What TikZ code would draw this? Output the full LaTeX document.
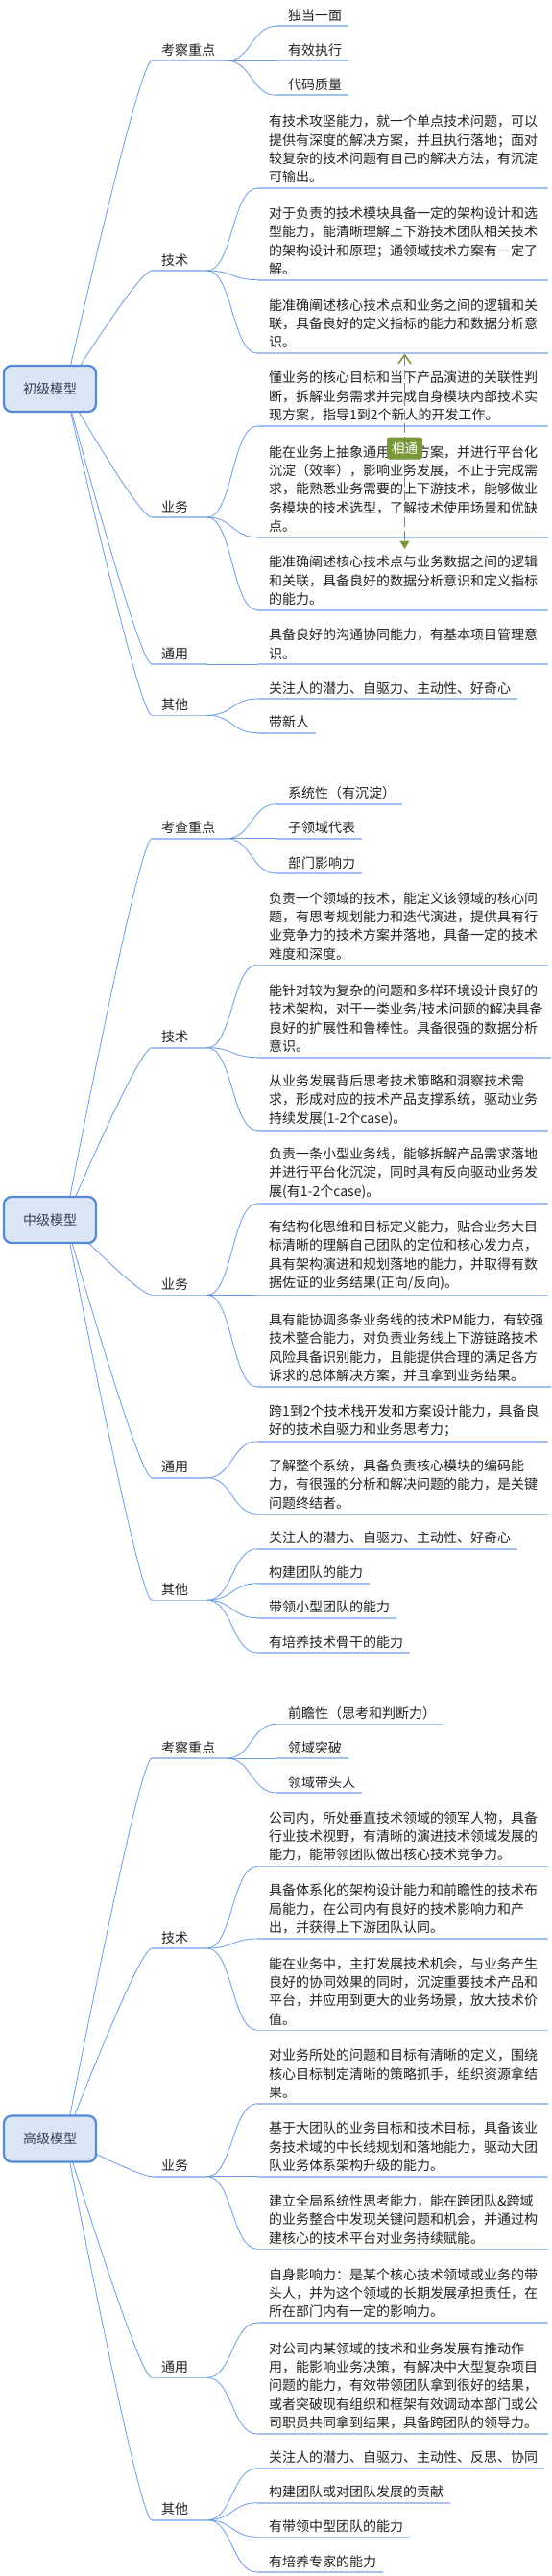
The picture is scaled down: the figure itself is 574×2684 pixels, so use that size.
\documentclass[tikz,border=0pt]{standalone}
\usepackage{fontspec}
\setmainfont{Noto Sans CJK SC}
\usetikzlibrary{calc,arrows.meta,backgrounds}
\definecolor{curveblue}{RGB}{106,154,230}
\definecolor{ulblue}{RGB}{163,194,240}
\definecolor{rootfill}{RGB}{219,229,243}
\definecolor{rootline}{RGB}{84,137,214}
\definecolor{roottext}{RGB}{50,66,92}
\definecolor{txt}{RGB}{34,34,34}
\definecolor{relgreen}{RGB}{122,151,58}
\newcommand\mmfont{\fontsize{14}{19.4}\selectfont}
\tikzset{
  curve/.style={draw=curveblue, line width=0.8pt},
  uline/.style={draw=ulblue, line width=1.6pt},
  rootbox/.style={draw=rootline, fill=rootfill, line width=2.2pt, rounded corners=8pt, minimum width=96pt, minimum height=48pt, inner sep=0pt, font=\fontsize{14}{16}\selectfont, text=roottext},
  lonetext/.style={anchor=base west, inner sep=0pt, font=\mmfont, text=txt},
  leaftext/.style={anchor=base west, inner sep=0pt, font=\mmfont, text=txt},
  desc/.style={anchor=south west, inner sep=0pt, align=left, font=\mmfont, text=txt},
  rellabel/.style={fill=relgreen, text=white, rounded corners=2.5pt, minimum width=37pt, minimum height=23pt, inner sep=0pt, font=\fontsize{13.5}{15}\selectfont},
  relline/.style={draw=relgreen, line width=1.6pt, dash pattern=on 10pt off 4pt},
}
% level-one topic: name, underline y, fork x, text
\newcommand\Lone[4]{%
  \coordinate (#1-l) at (158,#2);
  \coordinate (#1-f) at (#3,#2);
  \node[lonetext] (#1) at (168,#2-6) {#4};
  \draw[uline] (#1-l) -- (#1-f);}
% short leaf: parent, name, left x, underline y, text
\newcommand\Sleaf[5]{%
  \coordinate (#2-l) at (#3,#4);
  \node[leaftext] (#2) at (#3+12,#4-6) {#5};
  \draw[uline] (#2-l) -- (#2.east |- #2-l) -- ++(7,0);
  \draw[curve] (#1-f) .. controls +(26,0) and +(-26,0) .. (#2-l);}
% long leaf: parent, name, left x, underline y, right x, text
\newcommand\Lleaf[6]{%
  \coordinate (#2-l) at (#3,#4);
  \node[desc] (#2) at (#3+12,#4-4.7) {#6};
  \draw[uline] (#2-l) -- (#5,#4);
  \draw[curve] (#1-f) .. controls +(26,0) and +(-26,0) .. (#2-l);}
% root link: start coordinate, child name
\newcommand\Rlink[2]{%
  \draw[curve] (#1) .. controls ($(#1)!0.6667!(#2-l)+(-8,0)$) and ($(#2-l)+(-8,0)$) .. (#2-l);}

\begin{document}
\begin{tikzpicture}[x=1pt,y=-1pt]
\useasboundingbox (0,0) rectangle (574,2684);

\node[rootbox] (r1) at (52,405) {初级模型};
\node[rootbox] (r2) at (52,1271) {中级模型};
\node[rootbox] (r3) at (52,2228.5) {高级模型};
\coordinate (r1s) at ($(r1.center)+(16,0)$);
\coordinate (r2s) at ($(r2.center)+(16,0)$);
\coordinate (r3s) at ($(r3.center)+(16,0)$);

% ================= 初级模型
\Lone{a1}{63.3}{236}{考察重点}
\Sleaf{a1}{a1x1}{288}{27.3}{独当一面}
\Sleaf{a1}{a1x2}{288}{63.3}{有效执行}
\Sleaf{a1}{a1x3}{288}{99.3}{代码质量}

\Lone{a2}{282}{216}{技术}
\Lleaf{a2}{a2x1}{268}{196}{571}{有技术攻坚能力，就一个单点技术问题，可以\\提供有深度的解决方案，并且执行落地；面对\\较复杂的技术问题有自己的解决方法，有沉淀\\可输出。}
\Lleaf{a2}{a2x2}{268}{291.7}{571}{对于负责的技术模块具备一定的架构设计和选\\型能力，能清晰理解上下游技术团队相关技术\\的架构设计和原理；通领域技术方案有一定了\\解。}
\Lleaf{a2}{a2x3}{268}{368}{571}{能准确阐述核心技术点和业务之间的逻辑和关\\联，具备良好的定义指标的能力和数据分析意\\识。}

\Lone{a3}{539}{216}{业务}
\Lleaf{a3}{a3x1}{268}{444}{571}{懂业务的核心目标和当下产品演进的关联性判\\断，拆解业务需求并完成自身模块内部技术实\\现方案，指导1到2个新人的开发工作。}
\Lleaf{a3}{a3x2}{268}{559.7}{571}{能在业务上抽象通用技术方案，并进行平台化\\沉淀（效率），影响业务发展，不止于完成需\\求，能熟悉业务需要的上下游技术，能够做业\\务模块的技术选型，了解技术使用场景和优缺\\点。}
\Lleaf{a3}{a3x3}{268}{635.7}{571}{能准确阐述核心技术点与业务数据之间的逻辑\\和关联，具备良好的数据分析意识和定义指标\\的能力。}

\Lone{a4}{692}{216}{通用}
\Lleaf{a4}{a4x1}{268}{692}{571}{具备良好的沟通协同能力，有基本项目管理意\\识。}

\Lone{a5}{745.3}{216}{其他}
\Sleaf{a5}{a5x1}{268}{728}{关注人的潜力、自驱力、主动性、好奇心}
\Sleaf{a5}{a5x2}{268}{763.7}{带新人}

% ================= 中级模型
\Lone{b1}{873.7}{236}{考查重点}
\Sleaf{b1}{b1x1}{288}{837.7}{系统性（有沉淀）}
\Sleaf{b1}{b1x2}{288}{873.7}{子领域代表}
\Sleaf{b1}{b1x3}{288}{910}{部门影响力}

\Lone{b2}{1091.7}{216}{技术}
\Lleaf{b2}{b2x1}{268}{1005.3}{571}{负责一个领域的技术，能定义该领域的核心问\\题，有思考规划能力和迭代演进，提供具有行\\业竞争力的技术方案并落地，具备一定的技术\\难度和深度。}
\Lleaf{b2}{b2x2}{268}{1101.7}{574}{能针对较为复杂的问题和多样环境设计良好的\\技术架构，对于一类业务/技术问题的解决具备\\良好的扩展性和鲁棒性。具备很强的数据分析\\意识。}
\Lleaf{b2}{b2x3}{268}{1177.7}{571}{从业务发展背后思考技术策略和洞察技术需\\求，形成对应的技术产品支撑系统，驱动业务\\持续发展(1-2个case)。}

\Lone{b3}{1349.3}{216}{业务}
\Lleaf{b3}{b3x1}{268}{1254}{571}{负责一条小型业务线，能够拆解产品需求落地\\并进行平台化沉淀，同时具有反向驱动业务发\\展(有1-2个case)。}
\Lleaf{b3}{b3x2}{268}{1349.3}{571}{有结构化思维和目标定义能力，贴合业务大目\\标清晰的理解自己团队的定位和核心发力点，\\具有架构演进和规划落地的能力，并取得有数\\据佐证的业务结果(正向/反向)。}
\Lleaf{b3}{b3x3}{268}{1445}{574}{具有能协调多条业务线的技术PM能力，有较强\\技术整合能力，对负责业务线上下游链路技术\\风险具备识别能力，且能提供合理的满足各方\\诉求的总体解决方案，并且拿到业务结果。}

\Lone{b4}{1539.7}{216}{通用}
\Lleaf{b4}{b4x1}{268}{1501.7}{571}{跨1到2个技术栈开发和方案设计能力，具备良\\好的技术自驱力和业务思考力；}
\Lleaf{b4}{b4x2}{268}{1577.3}{571}{了解整个系统，具备负责核心模块的编码能\\力，有很强的分析和解决问题的能力，是关键\\问题终结者。}

\Lone{b5}{1667.3}{216}{其他}
\Sleaf{b5}{b5x1}{268}{1613.7}{关注人的潜力、自驱力、主动性、好奇心}
\Sleaf{b5}{b5x2}{268}{1649.7}{构建团队的能力}
\Sleaf{b5}{b5x3}{268}{1685.7}{带领小型团队的能力}
\Sleaf{b5}{b5x4}{268}{1722}{有培养技术骨干的能力}

% ================= 高级模型
\Lone{c1}{1832}{236}{考察重点}
\Sleaf{c1}{c1x1}{288}{1796.3}{前瞻性（思考和判断力）}
\Sleaf{c1}{c1x2}{288}{1832}{领域突破}
\Sleaf{c1}{c1x3}{288}{1868}{领域带头人}

\Lone{c2}{2030}{216}{技术}
\Lleaf{c2}{c2x1}{268}{1944.3}{571}{公司内，所处垂直技术领域的领军人物，具备\\行业技术视野，有清晰的演进技术领域发展的\\能力，能带领团队做出核心技术竞争力。}
\Lleaf{c2}{c2x2}{268}{2020}{571}{具备体系化的架构设计能力和前瞻性的技术布\\局能力，在公司内有良好的技术影响力和产\\出，并获得上下游团队认同。}
\Lleaf{c2}{c2x3}{268}{2115.3}{571}{能在业务中，主打发展技术机会，与业务产生\\良好的协同效果的同时，沉淀重要技术产品和\\平台，并应用到更大的业务场景，放大技术价\\值。}

\Lone{c3}{2267.7}{216}{业务}
\Lleaf{c3}{c3x1}{268}{2191.7}{571}{对业务所处的问题和目标有清晰的定义，围绕\\核心目标制定清晰的策略抓手，组织资源拿结\\果。}
\Lleaf{c3}{c3x2}{268}{2267.7}{571}{基于大团队的业务目标和技术目标，具备该业\\务技术域的中长线规划和落地能力，驱动大团\\队业务体系架构升级的能力。}
\Lleaf{c3}{c3x3}{268}{2343.3}{571}{建立全局系统性思考能力，能在跨团队\&跨域\\的业务整合中发现关键问题和机会，并通过构\\建核心的技术平台对业务持续赋能。}

\Lone{c4}{2477.3}{216}{通用}
\Lleaf{c4}{c4x1}{268}{2420}{571}{自身影响力：是某个核心技术领域或业务的带\\头人，并为这个领域的长期发展承担责任，在\\所在部门内有一定的影响力。}
\Lleaf{c4}{c4x2}{268}{2536}{571}{对公司内某领域的技术和业务发展有推动作\\用，能影响业务决策，有解决中大型复杂项目\\问题的能力，有效带领团队拿到很好的结果，\\或者突破现有组织和框架有效调动本部门或公\\司职员共同拿到结果，具备跨团队的领导力。}

\Lone{c5}{2625.7}{216}{其他}
\Sleaf{c5}{c5x1}{268}{2571.7}{关注人的潜力、自驱力、主动性、反思、协同}
\Sleaf{c5}{c5x2}{268}{2607.7}{构建团队或对团队发展的贡献}
\Sleaf{c5}{c5x3}{268}{2643.3}{有带领中型团队的能力}
\Sleaf{c5}{c5x4}{268}{2680}{有培养专家的能力}

% ================= root links behind the root boxes
\begin{scope}[on background layer]
\fill[white] (0,0) rectangle (574,2684);
\foreach \c in {a1,a2,a3,a4,a5} {\Rlink{r1s}{\c}}
\foreach \c in {b1,b2,b3,b4,b5} {\Rlink{r2s}{\c}}
\foreach \c in {c1,c2,c3,c4,c5} {\Rlink{r3s}{\c}}
\end{scope}

% ================= relationship 相通
\coordinate (relA) at ($(a2x3-l)+(153.5,0.5)$);
\coordinate (relB) at ($(a3x3-l)+(153.5,-63.7)$);
\draw[relline, {Straight Barb[length=9pt,width=13pt]}-{Triangle[length=8.5pt,width=10pt]}] (relA) -- (relB);
\node[rellabel] (rel) at (421.5,467) {相通};
\end{tikzpicture}
\end{document}
